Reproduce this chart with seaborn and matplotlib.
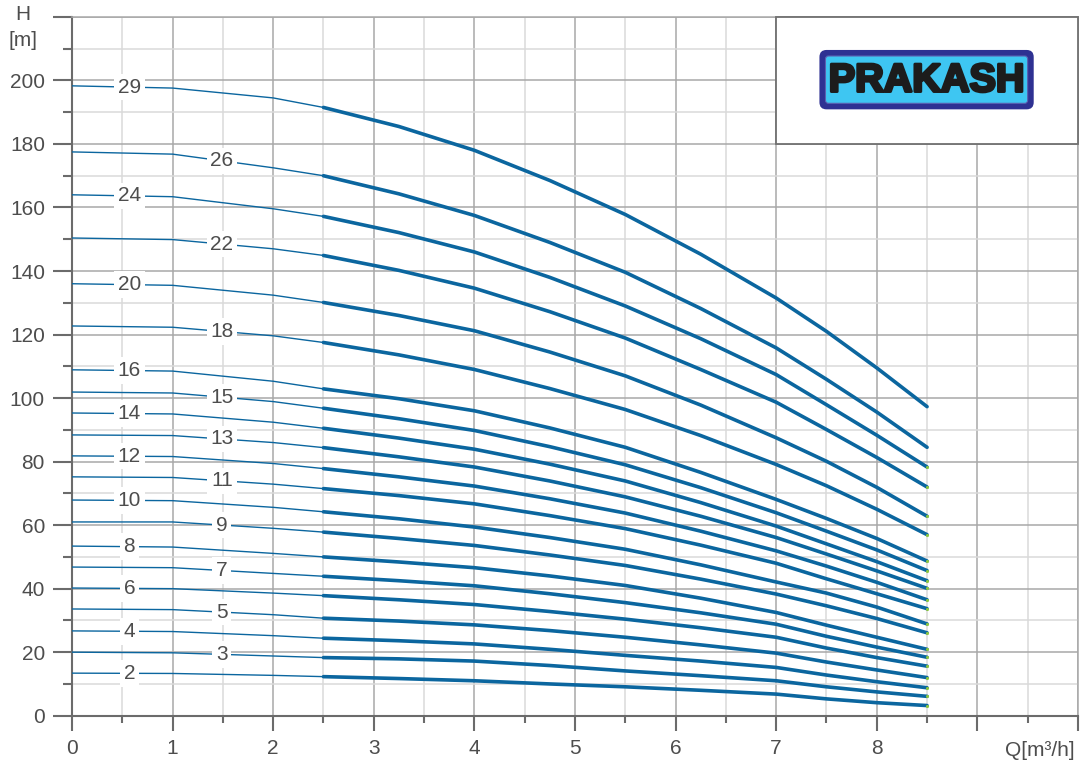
import numpy as np
import pandas as pd
import matplotlib
matplotlib.use("Agg")
import matplotlib.pyplot as plt
from matplotlib.patches import Rectangle, FancyBboxPatch
import matplotlib.patheffects as pe
import seaborn as sns

q = [0, 1, 2, 2.5, 3.25, 4, 4.75, 5.5, 6.25, 7, 7.5, 8, 8.5]

# head (m) for every stage count
h29 = [198.3, 197.6, 194.5, 191.5, 185.5, 178.0, 168.5, 157.8, 145.3, 131.5, 121.0, 109.5, 97.3]
h26 = [177.5, 176.8, 172.5, 170.0, 164.3, 157.5, 149.0, 139.6, 128.2, 115.8, 105.9, 95.6, 84.5]
h24 = [164.0, 163.4, 159.6, 157.2, 152.1, 146.0, 138.0, 129.0, 118.7, 107.4, 97.9, 88.3, 78.3]
h22 = [150.4, 149.9, 147.0, 144.9, 140.2, 134.6, 127.2, 118.9, 109.0, 98.7, 90.1, 81.3, 72.0]
h20 = [136.0, 135.5, 132.4, 130.1, 126.0, 121.2, 114.5, 107.0, 97.8, 87.5, 80.1, 71.9, 62.8]
h18 = [122.7, 122.3, 119.6, 117.5, 113.6, 109.0, 103.0, 96.4, 88.2, 79.1, 72.4, 65.0, 57.0]
h16 = [108.9, 108.5, 105.3, 102.9, 99.8, 96.0, 90.6, 84.5, 76.6, 68.1, 62.1, 55.8, 48.7]
h15 = [101.9, 101.6, 98.9, 96.8, 93.5, 89.8, 84.7, 79.0, 71.8, 63.9, 58.1, 52.2, 45.7]
h14 = [95.3, 95.0, 92.4, 90.5, 87.4, 83.9, 79.2, 73.9, 67.1, 59.7, 54.1, 48.5, 42.5]
h13 = [88.4, 88.2, 86.0, 84.4, 81.5, 78.3, 73.9, 68.9, 62.8, 56.1, 50.9, 45.6, 40.1]
h12 = [81.8, 81.6, 79.4, 77.8, 75.2, 72.3, 68.3, 63.8, 58.1, 51.9, 47.1, 42.0, 36.5]
h11 = [75.2, 75.0, 72.9, 71.5, 69.3, 66.7, 63.0, 58.9, 53.7, 48.0, 43.1, 38.4, 33.7]
h10 = [67.9, 67.7, 65.6, 64.2, 62.0, 59.4, 56.1, 52.4, 47.5, 42.1, 38.6, 34.2, 28.9]
h9 = [61.0, 61.0, 59.0, 57.8, 55.8, 53.6, 50.6, 47.3, 43.0, 38.3, 34.6, 30.6, 26.1]
h8 = [53.4, 53.1, 51.1, 50.0, 48.4, 46.6, 44.0, 41.0, 37.0, 32.5, 28.5, 24.7, 20.9]
h7 = [46.8, 46.6, 44.8, 43.9, 42.5, 40.9, 38.4, 35.6, 32.4, 28.8, 25.0, 21.6, 18.4]
h6 = [40.2, 40.0, 38.6, 37.8, 36.5, 35.0, 32.8, 30.4, 27.7, 24.7, 21.3, 18.3, 15.6]
h5 = [33.6, 33.4, 31.8, 30.7, 29.8, 28.6, 26.8, 24.7, 22.3, 19.7, 16.9, 14.4, 12.0]
h4 = [26.7, 26.5, 25.2, 24.4, 23.6, 22.6, 20.9, 19.0, 17.2, 15.2, 12.8, 10.7, 8.8]
h3 = [20.0, 19.8, 18.8, 18.3, 17.9, 17.2, 15.8, 14.1, 12.6, 11.0, 9.1, 7.5, 6.1]
h2 = [13.4, 13.3, 12.7, 12.3, 11.7, 11.0, 10.0, 9.1, 8.0, 6.8, 5.3, 4.1, 3.2]

stages = [29, 26, 24, 22, 20, 18, 16, 15, 14, 13, 12, 11, 10, 9, 8, 7, 6, 5, 4, 3, 2]
heads = [h29, h26, h24, h22, h20, h18, h16, h15, h14, h13, h12, h11, h10,
         h9, h8, h7, h6, h5, h4, h3, h2]

x_ticklabels = ["0", "1", "2", "3", "4", "5", "6", "7", "8", "", ""]
y_ticklabels = ["0", "20", "40", "60", "80", "100", "120", "140", "160", "180", "200", ""]

# long table for seaborn
rows = []
for n, h in zip(stages, heads):
    for qq, hh in zip(q, h):
        rows.append((n, qq, hh))
df = pd.DataFrame(rows, columns=["stages", "Q", "H"])
thin = df[df.Q <= 2.5]
thick = df[df.Q >= 2.5]

sns.set_style("white")
plt.rcParams["font.family"] = ["Liberation Sans", "DejaVu Sans"]

line_col = "#0b669f"
text_col = "#4d4d4d"
tick_col = "#6b6b6b"

fig = plt.figure(figsize=(10.81, 7.69), dpi=100)
ax = fig.add_axes([0.0666, 0.0693, 0.9306, 0.9087])

sns.lineplot(data=thin, x="Q", y="H", units="stages", estimator=None,
             color=line_col, lw=1.0, ax=ax, zorder=4)
sns.lineplot(data=thick, x="Q", y="H", units="stages", estimator=None,
             color=line_col, lw=2.6, ax=ax, zorder=4)

# small green end dots
ends = df[(df.Q == 8.5) & (df.stages < 26)]
ax.scatter(ends.Q, ends.H, s=5, color="#8cc63f", zorder=5, lw=0)

# stage numbers on the curves
for i, (n, h) in enumerate(zip(stages, heads)):
    xl = 0.57 if i % 2 == 0 else 1.49
    yl = np.interp(xl, q, h)
    ax.text(xl, yl, str(n), ha="center", va="center", fontsize=15,
            color=text_col, zorder=6,
            bbox=dict(boxstyle="square,pad=0.18", fc="white", ec="none"))

ax.set_xlim(0, 10)
ax.set_ylim(0, 220)
ax.set_xticks(np.arange(0, 11, 1))
ax.set_xticks(np.arange(0.5, 10, 1), minor=True)
ax.set_xticklabels(x_ticklabels)
ax.set_yticks(np.arange(0, 221, 20))
ax.set_yticks(np.arange(10, 220, 20), minor=True)
ax.set_yticklabels(y_ticklabels)
ax.set_xlabel("")
ax.set_ylabel("")

ax.grid(which="major", color="#a8a8a8", lw=1.1)
ax.grid(which="minor", color="#dadada", lw=1.1)
ax.set_axisbelow(True)

for s in ["left", "bottom"]:
    ax.spines[s].set_color(tick_col)
    ax.spines[s].set_linewidth(1.5)
for s in ["top", "right"]:
    ax.spines[s].set_color("#a8a8a8")
    ax.spines[s].set_linewidth(1.1)

ax.tick_params(which="both", bottom=True, left=True, top=False, right=False,
               direction="out", color=tick_col, width=1.5)
ax.tick_params(axis="x", which="major", length=11, labelsize=15,
               labelcolor=text_col, pad=6)
ax.tick_params(axis="x", which="minor", length=5)
ax.tick_params(axis="y", which="major", length=13.5, labelsize=15,
               labelcolor=text_col, pad=6)
ax.tick_params(axis="y", which="minor", length=6.5)

fig.text(23 / 1081, 1 - 15 / 769, "H", ha="center", va="center", fontsize=15, color=text_col)
fig.text(23 / 1081, 1 - 41 / 769, "[m]", ha="center", va="center", fontsize=15, color=text_col)
fig.text(1040 / 1081, 1 - 750 / 769, "Q[m³/h]", ha="center", va="center", fontsize=15, color=text_col)

# logo box
ax.add_patch(Rectangle((7, 180), 3, 40, fc="white", ec="#707070", lw=1.3,
                       zorder=7, clip_on=False))
asp = 100.75 / 3.175
ax.add_patch(FancyBboxPatch((7.43, 190.9), 2.13, 18.7, boxstyle="round,pad=0,rounding_size=0.07",
                            mutation_aspect=asp, fc="#2e3192", ec="none", zorder=8))
ax.add_patch(FancyBboxPatch((7.49, 192.8), 2.01, 14.9, boxstyle="round,pad=0,rounding_size=0.03",
                            mutation_aspect=asp, fc="#3ec6f2", ec="#5b5fb0", lw=0.8, zorder=9))
ax.text(8.495, 200.0, "PRAKASH", ha="center", va="center", fontsize=28.5,
        fontweight="bold", color="#1c1c1c", zorder=10,
        path_effects=[pe.withStroke(linewidth=2.2, foreground="#1c1c1c")])

fig.savefig("out.png", dpi=100)
